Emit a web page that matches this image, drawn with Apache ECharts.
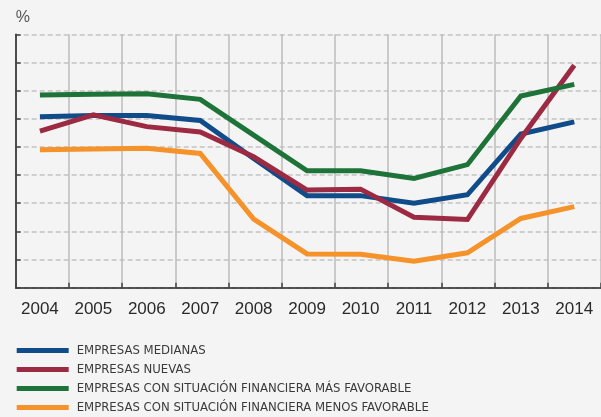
<!DOCTYPE html>
<html>
<head>
<meta charset="utf-8">
<script src="https://cdn.jsdelivr.net/npm/echarts@6/dist/echarts.min.js"></script>
<style>
  html, body { margin: 0; padding: 0; background: #f4f4f4; }
  #chart { width: 601px; height: 417px; }
</style>
</head>
<body>
<div id="chart"></div>
<script>
// Categories (years) and the four series, in %
const years = ['2004', '2005', '2006', '2007', '2008', '2009', '2010', '2011', '2012', '2013', '2014'];
const medianas = [6.07, 6.12, 6.12, 5.94, 4.59, 3.27, 3.27, 3.00, 3.30, 5.46, 5.89];
const nuevas = [5.56, 6.14, 5.72, 5.53, 4.65, 3.47, 3.50, 2.50, 2.42, 5.30, 7.90];
const masFavorable = [6.84, 6.87, 6.89, 6.69, 5.42, 4.15, 4.15, 3.88, 4.37, 6.81, 7.22];
const menosFavorable = [4.90, 4.93, 4.95, 4.77, 2.44, 1.20, 1.19, 0.94, 1.24, 2.46, 2.88];

const seriesNames = [
  'EMPRESAS MEDIANAS',
  'EMPRESAS NUEVAS',
  'EMPRESAS CON SITUACIÓN FINANCIERA MÁS FAVORABLE',
  'EMPRESAS CON SITUACIÓN FINANCIERA MENOS FAVORABLE'
];
const seriesData = [medianas, nuevas, masFavorable, menosFavorable];
const colors = ['#0f4c89', '#9c2a42', '#1e7338', '#f5922a'];

const yMin = 0, yMax = 9;
const bandW = 53.6;
const plotTop = 34.3, plotH = 253.4;

const chart = echarts.init(document.getElementById('chart'), null, { renderer: 'canvas' });

chart.setOption({
  backgroundColor: '#f4f4f4',
  animation: false,
  color: colors,
  grid: [
    // frame: axes, ticks and grid lines
    { left: 15.7, top: plotTop, width: bandW * years.length, height: plotH },
    // data lines and year labels
    { left: 13.2, top: plotTop, width: bandW * years.length, height: plotH }
  ],
  legend: {
    orient: 'vertical',
    left: 16.7,
    top: 343.5,
    padding: 0,
    height: 80,
    icon: 'rect',
    itemWidth: 52,
    itemHeight: 5,
    itemGap: 5,
    textStyle: {
      fontFamily: '"Liberation Sans Narrow", "DejaVu Sans Condensed", sans-serif',
      fontSize: 13,
      lineHeight: 14,
      color: '#3a3a3a',
      padding: [0, 0, 0, 3]
    },
    data: seriesNames
  },
  xAxis: [
    {
      type: 'category',
      gridIndex: 0,
      data: years,
      boundaryGap: true,
      axisLine: { show: true, lineStyle: { color: '#222', width: 1.5 } },
      axisTick: { show: true, inside: true, length: 5, lineStyle: { color: '#444', width: 1.5 } },
      axisLabel: { show: false },
      splitLine: { show: true, lineStyle: { color: '#bdbdbd', width: 1.5 } }
    },
    {
      type: 'category',
      gridIndex: 1,
      data: years,
      boundaryGap: true,
      axisLine: { show: false },
      axisTick: { show: false },
      axisLabel: {
        show: true,
        margin: 13,
        fontFamily: '"Liberation Sans", Arial, sans-serif',
        fontSize: 17,
        color: '#2a2a2a'
      },
      splitLine: { show: false }
    }
  ],
  yAxis: [
    {
      type: 'value',
      gridIndex: 0,
      min: yMin,
      max: yMax,
      interval: 1,
      name: '%',
      nameLocation: 'end',
      nameGap: 9,
      nameTextStyle: {
        align: 'left',
        fontFamily: '"Liberation Sans", Arial, sans-serif',
        fontSize: 16,
        color: '#555'
      },
      axisLine: { show: true, lineStyle: { color: '#222', width: 1.5 } },
      axisTick: { show: true, inside: true, length: 5, lineStyle: { color: '#444', width: 1.5 } },
      axisLabel: { show: false },
      splitLine: { show: true, lineStyle: { color: '#c2c2c2', width: 1.5, type: [5, 3] } }
    },
    {
      type: 'value',
      gridIndex: 1,
      min: yMin,
      max: yMax,
      interval: 1,
      axisLine: { show: false },
      axisTick: { show: false },
      axisLabel: { show: false },
      splitLine: { show: false }
    }
  ],
  series: seriesNames.map((name, i) => ({
    name: name,
    type: 'line',
    xAxisIndex: 1,
    yAxisIndex: 1,
    data: seriesData[i],
    symbol: 'none',
    lineStyle: { width: 5, color: colors[i], cap: 'butt', join: 'miter' },
    itemStyle: { color: colors[i] }
  }))
});
</script>
</body>
</html>
